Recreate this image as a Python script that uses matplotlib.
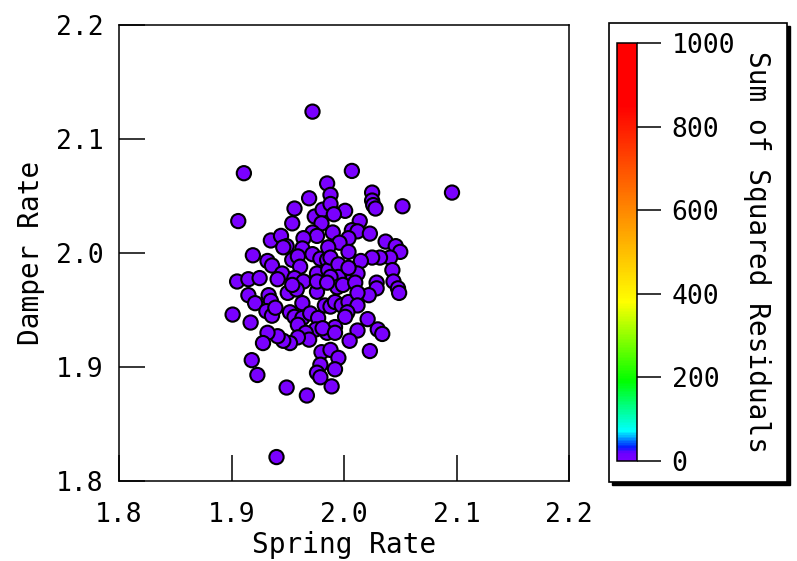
import matplotlib
matplotlib.use("Agg")
import matplotlib.pyplot as plt
from matplotlib.colors import LinearSegmentedColormap, Normalize
from matplotlib.cm import ScalarMappable
from matplotlib.patches import Rectangle

plt.rcParams['font.family'] = ['DejaVu Sans Mono']
plt.rcParams['font.size'] = 19

# Data
spring_rate = [
    1.972, 1.911, 2.007, 2.096, 1.906, 1.940, 1.918, 1.923, 1.949, 1.967,
    1.989, 2.023, 2.052, 1.956, 1.954, 1.969, 1.985, 1.974, 1.981, 1.980,
    1.972, 1.976, 1.964, 1.963, 1.935, 1.944, 1.949, 1.946, 1.919, 1.932,
    1.936, 1.945, 1.954, 1.959, 1.961, 1.972, 1.979, 1.985, 1.976, 1.986,
    1.905, 1.915, 1.925, 1.941, 1.956, 1.964, 2.025, 2.025, 2.026, 2.028,
    1.988, 1.988, 2.001, 1.991, 2.014, 2.007, 2.012, 1.990, 2.023, 2.004,
    1.996, 1.986, 2.037, 2.046, 2.050, 2.041, 2.032, 2.025, 2.015, 2.004,
    1.988, 1.995, 2.043, 2.044, 2.029, 2.008, 1.995, 1.988, 2.012, 2.004,
    2.048, 2.049, 2.029, 2.022, 1.915, 1.921, 1.901, 1.917, 1.933, 1.935,
    1.931, 1.936, 1.939, 1.950, 1.952, 1.956, 1.963, 1.963, 1.959, 1.958,
    1.954, 1.976, 1.970, 1.977, 1.975, 1.983, 1.988, 1.992, 1.998, 2.004,
    1.994, 1.999, 2.010, 2.012, 2.012, 2.003, 2.001, 1.992, 1.985, 1.981,
    1.992, 1.966, 1.969, 1.959, 1.952, 1.946, 1.941, 1.932, 1.928, 2.021,
    2.030, 2.034, 2.012, 2.005, 1.980, 1.988, 1.995, 1.979, 1.976, 1.979,
    1.992, 1.976, 1.985,
]
damper_rate = [
    2.124, 2.070, 2.072, 2.053, 2.028, 1.821, 1.906, 1.893, 1.882, 1.875,
    1.883, 1.914, 2.041, 2.039, 2.026, 2.048, 2.061, 2.032, 2.038, 2.026,
    2.018, 2.015, 2.013, 2.004, 2.011, 2.015, 2.006, 2.005, 1.998, 1.993,
    1.989, 1.982, 1.994, 1.997, 1.988, 1.999, 1.995, 1.994, 1.982, 1.985,
    1.975, 1.977, 1.978, 1.977, 1.978, 1.975, 2.053, 2.046, 2.042, 2.039,
    2.051, 2.043, 2.037, 2.034, 2.028, 2.020, 2.019, 2.018, 2.017, 2.013,
    2.009, 2.005, 2.010, 2.006, 2.001, 1.996, 1.996, 1.996, 1.993, 2.001,
    1.996, 1.990, 1.985, 1.975, 1.974, 1.978, 1.979, 1.979, 1.982, 1.987,
    1.969, 1.965, 1.969, 1.963, 1.963, 1.956, 1.946, 1.939, 1.963, 1.958,
    1.949, 1.945, 1.952, 1.965, 1.948, 1.944, 1.956, 1.943, 1.937, 1.968,
    1.972, 1.966, 1.947, 1.943, 1.933, 1.954, 1.953, 1.957, 1.954, 1.957,
    1.970, 1.972, 1.974, 1.965, 1.954, 1.948, 1.944, 1.935, 1.930, 1.934,
    1.930, 1.930, 1.924, 1.926, 1.921, 1.923, 1.927, 1.930, 1.921, 1.942,
    1.933, 1.929, 1.932, 1.923, 1.913, 1.915, 1.908, 1.902, 1.895, 1.891,
    1.898, 1.975, 1.974,
]
residual = 0.0  # every point sits at the bottom of the colour scale

ticks = [1.8, 1.9, 2.0, 2.1, 2.2]
cbar_ticks = [0, 200, 400, 600, 800, 1000]

# colour scale: purple -> blue -> cyan -> green -> yellow -> orange -> red
cmap = LinearSegmentedColormap.from_list('resid', [
    (0.0, '#7a00ff'), (0.018, '#6a00ff'), (0.032, '#0020ff'),
    (0.07, '#00ffff'), (0.19, '#00ff00'), (0.38, '#ffff00'),
    (0.6, '#ff8800'), (0.85, '#ff0000'), (1.0, '#ff0000')])
norm = Normalize(vmin=0, vmax=1000)

fig = plt.figure(figsize=(7.97, 5.61), dpi=100)
W, H = 797, 561

# framed box with drop shadow behind the colour bar
fig.patches.append(Rectangle((612 / W, 76 / H), 178 / W, 459 / H,
                             transform=fig.transFigure, facecolor='black',
                             edgecolor='black', zorder=0))
fig.patches.append(Rectangle((609 / W, 79 / H), 178 / W, 459 / H,
                             transform=fig.transFigure, facecolor='white',
                             edgecolor='black', linewidth=1.2, zorder=1))

ax = fig.add_axes([119 / W, 80 / H, 450 / W, 456 / H])
ax.scatter(spring_rate, damper_rate, c=[cmap(norm(residual))] * len(spring_rate),
           s=105, edgecolors='black', linewidths=1.5, zorder=3)

ax.set_xlim(1.8, 2.2)
ax.set_ylim(1.8, 2.2)
ax.set_xticks(ticks)
ax.set_yticks(ticks)
ax.set_xticklabels([f'{t:.1f}' for t in ticks])
ax.set_yticklabels([f'{t:.1f}' for t in ticks])
ax.tick_params(direction='in', length=19, width=1.1, pad=15)
ax.tick_params(axis='y', pad=11)
for sp in ax.spines.values():
    sp.set_linewidth(1.1)
ax.set_xlabel('Spring Rate', fontsize=20, labelpad=2)
ax.set_ylabel('Damper Rate', fontsize=20, labelpad=8)

cax = fig.add_axes([617 / W, 100 / H, 20 / W, 418 / H])
cax.set_zorder(2)
cb = fig.colorbar(ScalarMappable(norm=norm, cmap=cmap), cax=cax, ticks=cbar_ticks)
cb.outline.set_linewidth(1.1)
cax.tick_params(direction='out', length=17, width=1.1, pad=8)
cb.set_label('Sum of Squared Residuals', fontsize=20, rotation=270, labelpad=26)

fig.savefig('out.png', dpi=100)
